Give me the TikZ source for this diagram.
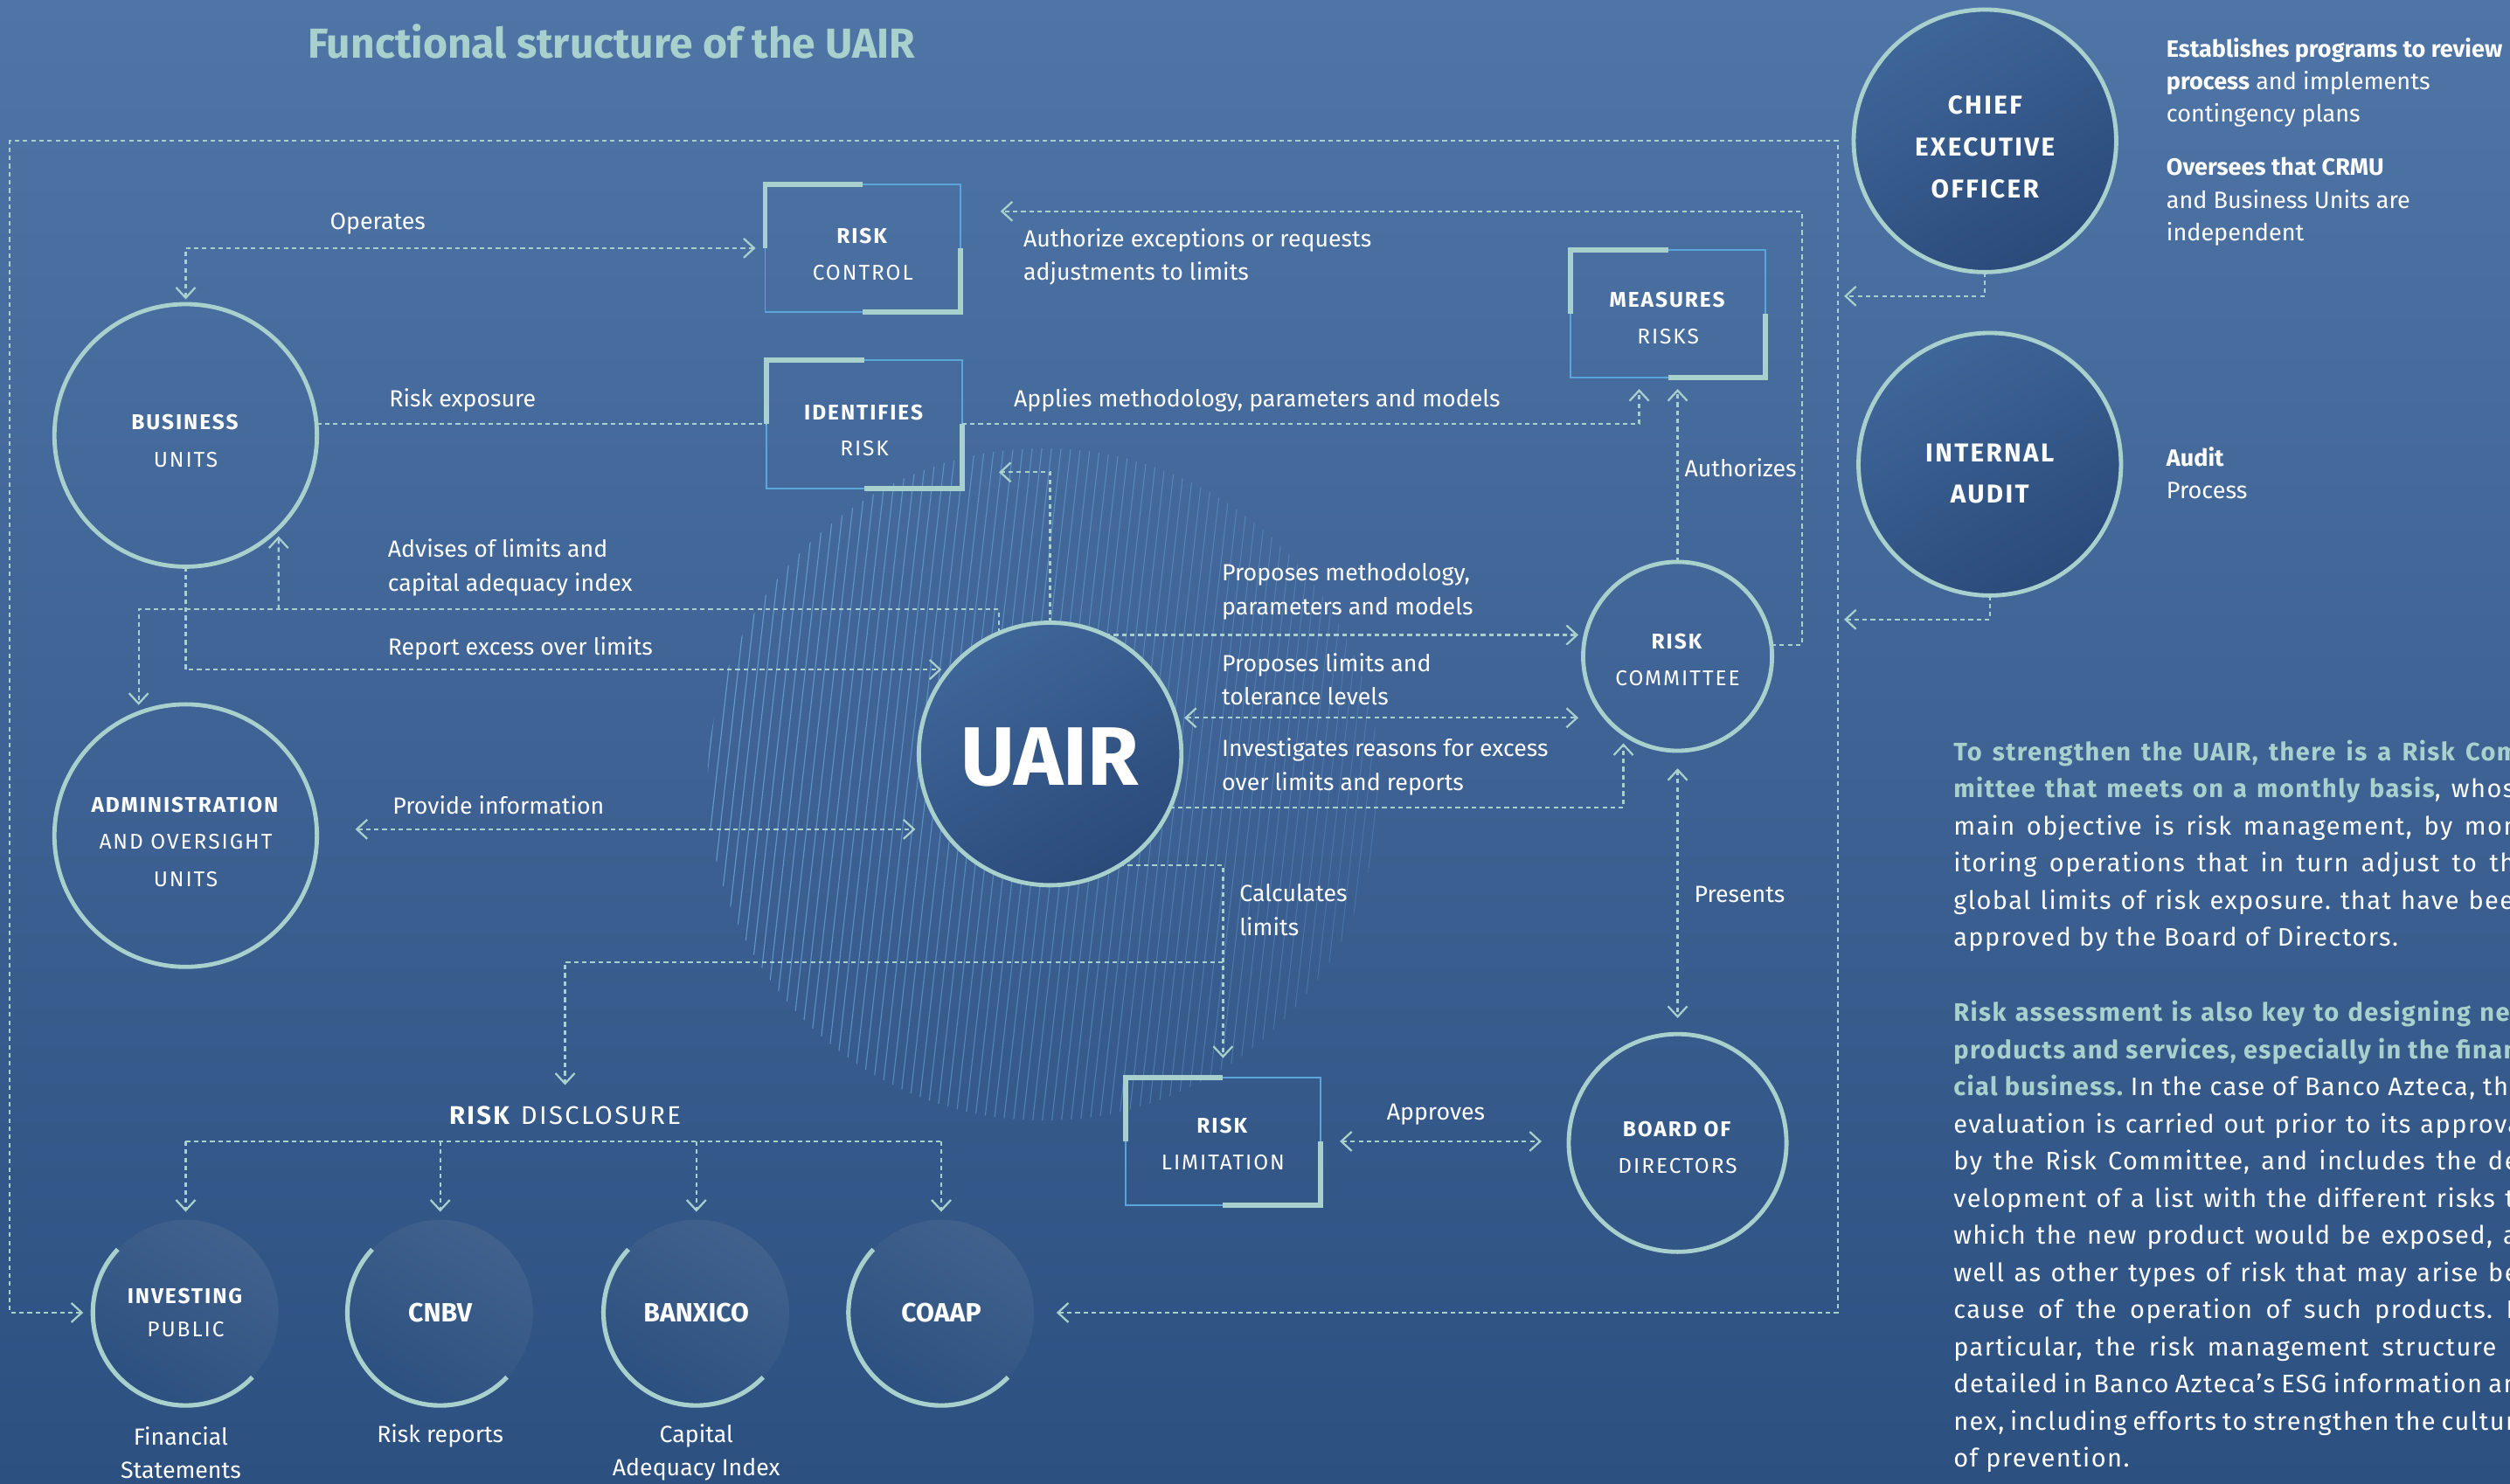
\documentclass[tikz,border=0pt]{standalone}
\usepackage{fontspec}
\setmainfont{Fira Sans}
\newfontfamily\capsfont[LetterSpace=8]{Fira Sans}
\newfontfamily\parafont[LetterSpace=5]{Fira Sans}
\usetikzlibrary{arrows.meta}
\frenchspacing

\definecolor{bgtop}{HTML}{4F75A7}
\definecolor{bgbot}{HTML}{2C5080}
\definecolor{mint}{HTML}{A8D0CD}
\definecolor{edgeblue}{HTML}{5AA5DA}
\definecolor{circtop}{HTML}{3F6699}
\definecolor{circbot}{HTML}{2A4A7A}
\definecolor{hatchblue}{HTML}{70ABE2}

% pushes the text of a round or square node a bit down
\newcommand{\drop}[1]{\rule{0pt}{#1}}

\begin{document}
\begin{tikzpicture}[x=0.2mm, y=-0.2mm,
  conn/.style={draw=mint, line width=0.7pt, dash pattern=on 1.6pt off 1.3pt},
  fwd/.style={-{Straight Barb[length=1.3mm,width=2.4mm]}, shorten >=1mm},
  twoway/.style={{Straight Barb[length=1.3mm,width=2.4mm]}-{Straight Barb[length=1.3mm,width=2.4mm]}},
  lbl/.style={inner sep=0pt, text=white, align=left, font=\fontsize{8.3}{11.9}\selectfont},
  side/.style={lbl, anchor=west, font=\fontsize{8.4}{11.6}\selectfont},
  para/.style={inner sep=0pt, text=white, align=left, anchor=north west, font=\parafont\fontsize{9}{13.2}\selectfont},
  circ/.style={circle, draw=mint, line width=1.5pt, inner sep=0pt, outer sep=0pt, text=white, align=center, font=\capsfont\fontsize{7.6}{13.2}\selectfont},
  dark/.style={top color=circtop, bottom color=circbot, shading angle=30},
  bcirc/.style={circle, minimum size=23.2mm, inner sep=0pt, outer sep=0pt, top color=bgbot!90!white, bottom color=bgbot, shading angle=-30, text=white, align=center},
  riskbox/.style={rectangle, draw=edgeblue, line width=0.6pt, minimum width=24.4mm, minimum height=16mm, inner sep=0pt, outer sep=0pt, text=white, align=center, font=\capsfont\fontsize{7.6}{13}\selectfont},
  corner/.style={draw=mint, line width=1.8pt, line join=miter}]

\shade[top color=bgtop, bottom color=bgbot] (0,0) rectangle (1568,927);
\useasboundingbox (0,0) rectangle (1568,927);

% -------- hatched disc behind the UAIR -----------
\begin{scope}
\clip (652,490) circle[radius=42mm];
\foreach \x in {380,386,...,900} {
  \pgfmathsetmacro{\op}{max(0.12,0.8-(\x-400)*0.0013)}
  \draw[hatchblue, line width=0.35pt, opacity=\op] (\x,710) -- ++(50,-440);
}
\end{scope}

\node[inner sep=0pt, anchor=west, text=mint, font=\fontsize{14.9}{17}\selectfont\bfseries] (title) at (192,26) {Functional structure of the UAIR};

% -------- units and bodies -----------
\node[circ, minimum size=32.8mm] (bu) at (116,272) {\drop{9.2pt}\textbf{BUSINESS}\\UNITS};
\node[circ, minimum size=32.8mm] (aou) at (116,522) {\drop{9.8pt}\textbf{ADMINISTRATION}\\AND OVERSIGHT\\UNITS};
\node[circ, dark, minimum size=32.8mm, font=\fontsize{29.5}{31}\selectfont\bfseries] (uair) at (656,471) {\drop{23pt}UAIR};
\node[circ, minimum size=23.6mm] (rc) at (1048,410) {\drop{8pt}\textbf{RISK}\\COMMITTEE};
\node[circ, minimum size=27.2mm] (bod) at (1048,714) {\drop{8.7pt}\textbf{BOARD OF}\\DIRECTORS};
\node[circ, dark, minimum size=32.8mm, font=\capsfont\fontsize{9.2}{14.8}\selectfont\bfseries] (ceo) at (1240,88) {\drop{10.9pt}CHIEF\\EXECUTIVE\\OFFICER};
\node[circ, dark, minimum size=32.8mm, font=\capsfont\fontsize{9.2}{14.8}\selectfont\bfseries] (ia) at (1243,290) {\drop{13.1pt}INTERNAL\\AUDIT};

\node[riskbox] (ctrl) at (539,155) {\drop{9.8pt}\textbf{RISK}\\CONTROL};
\node[riskbox] (ident) at (540,265) {\drop{9.8pt}\textbf{IDENTIFIES}\\RISK};
\node[riskbox] (meas) at (1042,196) {\drop{8.6pt}\textbf{MEASURES}\\RISKS};
\node[riskbox] (limit) at (764,713) {\drop{7.5pt}\textbf{RISK}\\LIMITATION};
\foreach \b in {ctrl,ident,meas,limit} {
  \draw[corner] (\b.north) -- (\b.north west) -- (\b.west);
  \draw[corner] (\b.east) -- (\b.south east) -- (\b.south);
}

\node[inner sep=0pt, text=white, font=\capsfont\fontsize{9.1}{12}\selectfont] (disc) at (353,697) {\textbf{RISK} DISCLOSURE};

\node[bcirc, font=\capsfont\fontsize{7.6}{12}\selectfont] (inv) at (116,820) {\textbf{INVESTING}\\PUBLIC};
\node[bcirc, font=\fontsize{9.4}{12}\selectfont\bfseries] (cnbv) at (275,820) {CNBV};
\node[bcirc, font=\fontsize{9.4}{12}\selectfont\bfseries] (banx) at (435,820) {BANXICO};
\node[bcirc, font=\fontsize{9.4}{12}\selectfont\bfseries] (coaap) at (588,820) {COAAP};
\foreach \c in {inv,cnbv,banx,coaap}
  \draw[mint, line width=1.6pt] (\c.137) arc[start angle=137, end angle=316, radius=11.6mm];

% -------- labels -----------
\node[lbl] (lop) at (236,140) {Operates};
\node[lbl] (lexp) at (289,250) {Risk exposure};
\node[lbl, anchor=west] (lauth) at (639,160.5) {Authorize exceptions or requests\\adjustments to limits};
\node[lbl, anchor=west] (lapp) at (633,250) {Applies methodology, parameters and models};
\node[lbl, anchor=west] (lauz) at (1052,292) {Authorizes};
\node[lbl, anchor=west] (ladv) at (242,354.5) {Advises of limits and\\capital adequacy index};
\node[lbl, anchor=west] (lrep) at (242,405) {Report excess over limits};
\node[lbl, anchor=west] (lprov) at (245,503) {Provide information};
\node[lbl, anchor=west] (lpmeth) at (763,369.5) {Proposes methodology,\\parameters and models};
\node[lbl, anchor=west] (lplim) at (763,424.5) {Proposes limits and\\tolerance levels};
\node[lbl, anchor=west] (linv) at (763,479) {Investigates reasons for excess\\over limits and reports};
\node[lbl, anchor=west] (lcalc) at (774,568.5) {Calculates\\limits};
\node[lbl, anchor=west] (lpres) at (1058,559) {Presents};
\node[lbl] (lappr) at (897,696) {Approves};
\node[lbl, align=center] (lfin) at (113,907.5) {Financial\\Statements};
\node[lbl] (lrr) at (275,897) {Risk reports};
\node[lbl, align=center] (lcap) at (435,907.5) {Capital\\Adequacy Index};

% -------- connectors -----------
\coordinate (nw) at (6,88);
\coordinate (se) at (1148,820);
\coordinate (ceoin) at (1148,185);
\coordinate (iain) at (1148,387);
\coordinate (advbr) at (174,380.5);
\coordinate (calcbr) at (764,601);
\coordinate (bar) at (0,713);

\draw[conn, twoway, shorten <=2.8mm, shorten >=1.2mm] (coaap.east) -- (se) |- (nw) |- (inv.west);
\draw[conn, fwd, shorten >=0.8mm] (ceo.south) |- (ceoin);
\draw[conn, fwd, shorten >=0.8mm] (ia.south) |- (iain);

\draw[conn, twoway, shorten <=0.6mm, shorten >=1.2mm] (bu.north) |- (ctrl.west);
\draw[conn] (bu.east |- ident.west) -- (ident.west);
\draw[conn, fwd, shorten >=1.4mm] (ident.east) -| ([xshift=-3.6mm]meas.south);
\draw[conn, fwd, shorten >=5mm] (rc.7) -- ++(19,0) |- ([yshift=4.6mm]ctrl.east);
\draw[conn, fwd, shorten >=1.4mm] (rc.north) -- (rc.north |- meas.south);
\draw[conn, fwd, shorten >=4.6mm] (uair.north) |- ([yshift=-6mm]ident.east);

\draw[conn, fwd] (uair.113) -- ++(0,-15) -| (aou.111);
\draw[conn, fwd] (advbr) -- (bu.-45);
\draw[conn, fwd] (bu.south) |- (uair.140);
\draw[conn, twoway, shorten <=4.8mm, shorten >=3.4mm] (aou.east |- uair.-145) -- (uair.-145);

\draw[conn, fwd, shorten >=0.6mm] (uair.65) -- (uair.65 -| rc.west);
\draw[conn, twoway, shorten <=1mm, shorten >=0.6mm] (uair.16) -- (uair.16 -| rc.west);
\draw[conn, fwd, shorten >=1.2mm] (uair.-24) -| (rc.235);
\draw[conn, fwd, shorten >=2.4mm] (uair.-58) -| (limit.north);
\draw[conn, fwd, shorten >=2.6mm] (calcbr) -| (disc.north);

\draw[conn, twoway, shorten <=2.2mm, shorten >=2mm] (rc.south) -- (bod.north);
\draw[conn, twoway, shorten <=2.4mm, shorten >=3.4mm] (limit.east) -- (limit.east -| bod.west);

\draw[conn] (inv.north |- bar) -- (coaap.north |- bar);
\foreach \c in {inv,cnbv,banx,coaap}
  \draw[conn, fwd] (\c.north |- bar) -- (\c.north);

% -------- side texts -----------
\node[side] (tceo) at (1353,51.5) {\textbf{Establishes programs to review}\\\textbf{process} and implements\\contingency plans};
\node[side] (tcrmu) at (1353,126) {\textbf{Oversees that CRMU}\\and Business Units are\\independent};
\node[side] (taud) at (1353,295.5) {\textbf{Audit}\\Process};

\node[para] (pone) at (1220,462) {%
\makebox[72mm][s]{\color{mint}\bfseries To strengthen the UAIR, there is a Risk Com-}\\
\makebox[72mm][s]{{\color{mint}\bfseries mittee that meets on a monthly basis}, whose}\\
\makebox[72mm][s]{main objective is risk management, by mon-}\\
\makebox[72mm][s]{itoring operations that in turn adjust to the}\\
\makebox[72mm][s]{global limits of risk exposure. that have been}\\
approved by the Board of Directors.};
\node[para] (ptwo) at (1220,625) {%
\makebox[72mm][s]{\color{mint}\bfseries Risk assessment is also key to designing new}\\
\makebox[72mm][s]{\color{mint}\bfseries products and services, especially in the finan-}\\
\makebox[72mm][s]{{\color{mint}\bfseries cial business.} In the case of Banco Azteca, this}\\
\makebox[72mm][s]{evaluation is carried out prior to its approval}\\
\makebox[72mm][s]{by the Risk Committee, and includes the de-}\\
\makebox[72mm][s]{velopment of a list with the different risks to}\\
\makebox[72mm][s]{which the new product would be exposed, as}\\
\makebox[72mm][s]{well as other types of risk that may arise be-}\\
\makebox[72mm][s]{cause of the operation of such products. In}\\
\makebox[72mm][s]{particular, the risk management structure is}\\
\makebox[72mm][s]{detailed in Banco Azteca’s ESG information an-}\\
\makebox[72mm][s]{nex, including efforts to strengthen the culture}\\
of prevention.};

\end{tikzpicture}
\end{document}
